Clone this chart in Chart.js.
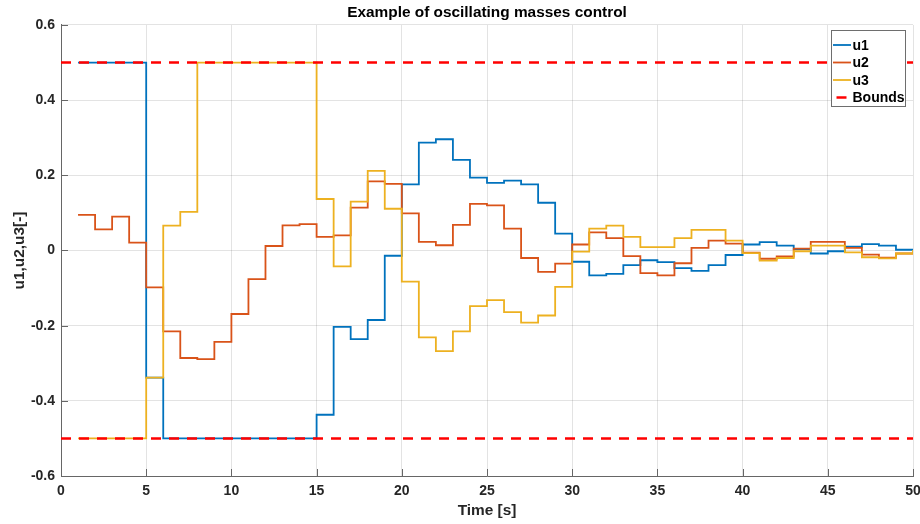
<!DOCTYPE html>
<html>
<head>
<meta charset="utf-8">
<script src="https://cdn.jsdelivr.net/npm/chart.js@4/dist/chart.umd.min.js"></script>
<style>
  body { margin: 0; background: #fff; }
  #wrap { width: 920px; height: 524px; }
</style>
</head>
<body>
<div id="wrap"><canvas id="chart"></canvas></div>
<script>
// stairs data: value held from time[i] to time[i+1]
const time = [1,2,3,4,5,6,7,8,9,10,11,12,13,14,15,16,17,18,19,20,21,22,23,24,25,
  26,27,28,29,30,31,32,33,34,35,36,37,38,39,40,41,42,43,44,45,46,47,48,49,50];

const u1 = [0.5, 0.5, 0.5, 0.5, -0.338, -0.5, -0.5, -0.5, -0.5, -0.5,
  -0.5, -0.5, -0.5, -0.5, -0.437, -0.203, -0.236, -0.185, -0.014, 0.176,
  0.287, 0.296, 0.241, 0.194, 0.180, 0.186, 0.176, 0.127, 0.045, -0.030,
  -0.066, -0.062, -0.039, -0.026, -0.031, -0.047, -0.054, -0.039, -0.012, 0.016,
  0.022, 0.013, 0.004, -0.008, -0.002, 0.010, 0.017, 0.013, 0.002, 0.002];

const u2 = [0.095, 0.056, 0.090, 0.021, -0.098, -0.215, -0.286, -0.289, -0.243, -0.169,
  -0.076, 0.012, 0.067, 0.070, 0.036, 0.040, 0.114, 0.184, 0.177, 0.099,
  0.023, 0.014, 0.068, 0.124, 0.120, 0.058, -0.020, -0.057, -0.035, 0.016,
  0.048, 0.033, -0.015, -0.060, -0.066, -0.034, 0.007, 0.026, 0.018, -0.006,
  -0.022, -0.016, 0.005, 0.023, 0.023, 0.007, -0.011, -0.019, -0.008, -0.008];

const u3 = [-0.5, -0.5, -0.5, -0.5, -0.338, 0.066, 0.103, 0.5, 0.5, 0.5,
  0.5, 0.5, 0.5, 0.5, 0.137, -0.042, 0.130, 0.212, 0.111, -0.083,
  -0.231, -0.268, -0.215, -0.148, -0.132, -0.164, -0.192, -0.173, -0.097, -0.003,
  0.058, 0.066, 0.036, 0.009, 0.009, 0.033, 0.055, 0.055, 0.026, -0.007,
  -0.027, -0.020, -0.002, 0.013, 0.013, -0.005, -0.018, -0.021, -0.008, 0.001];

const boundsTime = [0, 50];
const upperBound = [0.5, 0.5];
const lowerBound = [-0.5, -0.5];

const xTicks = [0, 5, 10, 15, 20, 25, 30, 35, 40, 45, 50];
const yTicks = [-0.6, -0.4, -0.2, 0, 0.2, 0.4, 0.6];

const colors = { u1: '#0072BD', u2: '#D95319', u3: '#EDB120', bounds: '#FF0000' };
const FONT = "'Liberation Sans', Arial, Helvetica, sans-serif";
const axisGrey = '#262626';

const toPoints = (xs, ys) => xs.map((x, i) => ({ x, y: ys[i] }));

// inward tick marks like the original axes
const innerTicks = {
  id: 'innerTicks',
  afterDraw(chart) {
    const { ctx, chartArea: a, scales: { x, y } } = chart;
    ctx.save();
    ctx.strokeStyle = '#666';
    ctx.lineWidth = 1;
    ctx.beginPath();
    xTicks.forEach(v => {
      const px = Math.round(x.getPixelForValue(v)) + 0.5;
      ctx.moveTo(px, a.bottom); ctx.lineTo(px, a.bottom - 7);
    });
    yTicks.forEach(v => {
      const py = Math.round(y.getPixelForValue(v)) + 0.5;
      ctx.moveTo(a.left, py); ctx.lineTo(a.left + 7, py);
    });
    ctx.stroke();
    ctx.restore();
  }
};

// legend box in the top-right corner of the plot
const boxLegend = {
  id: 'boxLegend',
  afterDraw(chart) {
    const { ctx, chartArea: a } = chart;
    const items = [
      { label: 'u1', color: colors.u1 },
      { label: 'u2', color: colors.u2 },
      { label: 'u3', color: colors.u3 },
      { label: 'Bounds', color: colors.bounds }
    ];
    const left = Math.round(a.right) - 81.5, top = Math.round(a.top) + 5.5, w = 74, h = 76;
    ctx.save();
    ctx.fillStyle = '#fff';
    ctx.fillRect(left, top, w, h);
    ctx.strokeStyle = '#6e6e6e';
    ctx.lineWidth = 1;
    ctx.strokeRect(left, top, w, h);
    ctx.font = 'bold 14px ' + FONT;
    ctx.textBaseline = 'middle';
    items.forEach((it, i) => {
      const cy = top + 14.5 + i * 17.5;
      ctx.beginPath();
      ctx.strokeStyle = it.color;
      if (it.label === 'Bounds') {
        ctx.lineWidth = 2.5;
        ctx.moveTo(left + 5, cy); ctx.lineTo(left + 15, cy);
      } else {
        ctx.lineWidth = 1.8;
        ctx.moveTo(left + 1.5, cy); ctx.lineTo(left + 19.5, cy);
      }
      ctx.stroke();
      ctx.fillStyle = '#000';
      ctx.fillText(it.label, left + 21, cy + 1);
    });
    ctx.restore();
  }
};

const stairs = (label, data, color, order) => ({
  label,
  data: toPoints(time, data),
  borderColor: color,
  borderWidth: 1.8,
  stepped: 'before',
  pointRadius: 0,
  fill: false,
  order
});

new Chart(document.getElementById('chart'), {
  type: 'line',
  data: {
    datasets: [
      stairs('u1', u1, colors.u1, 3),
      stairs('u2', u2, colors.u2, 2),
      stairs('u3', u3, colors.u3, 1),
      {
        label: 'Bounds',
        data: toPoints(boundsTime, upperBound),
        borderColor: colors.bounds,
        borderWidth: 2.5,
        borderDash: [10, 8],
        pointRadius: 0,
        order: 0
      },
      {
        label: 'Bounds (lower)',
        data: toPoints(boundsTime, lowerBound),
        borderColor: colors.bounds,
        borderWidth: 2.5,
        borderDash: [10, 8],
        pointRadius: 0,
        order: 0
      }
    ]
  },
  options: {
    responsive: true,
    maintainAspectRatio: false,
    animation: false,
    layout: { padding: 0 },
    plugins: {
      legend: { display: false },
      tooltip: { enabled: false },
      title: {
        display: true,
        fullSize: false,
        text: 'Example of oscillating masses control',
        color: '#000',
        font: { family: FONT, size: 15.4, weight: 'bold' },
        padding: { top: 4, bottom: 2.5 }
      }
    },
    scales: {
      x: {
        type: 'linear',
        min: 0,
        max: 50,
        afterBuildTicks: s => { s.ticks = xTicks.map(v => ({ value: v })); },
        afterFit: s => { s.height = 48; s.paddingRight = 7; s.paddingLeft = 0; },
        ticks: {
          color: axisGrey,
          padding: 7,
          maxRotation: 0,
          font: { family: FONT, size: 14, weight: 'bold' }
        },
        grid: { color: 'rgba(38,38,38,0.13)', drawTicks: false },
        border: { color: '#666' },
        title: {
          display: true,
          text: 'Time [s]',
          color: axisGrey,
          font: { family: FONT, size: 15.4, weight: 'bold' },
          padding: { top: 0, bottom: 4 }
        }
      },
      y: {
        type: 'linear',
        min: -0.6,
        max: 0.6,
        afterBuildTicks: s => { s.ticks = yTicks.map(v => ({ value: v })); },
        afterFit: s => { s.width = 61; },
        ticks: {
          color: axisGrey,
          padding: 6,
          font: { family: FONT, size: 14, weight: 'bold' },
          callback: v => (Math.abs(v) < 1e-9 ? '0' : String(+v.toFixed(1)))
        },
        grid: { color: 'rgba(38,38,38,0.13)', drawTicks: false },
        border: { color: '#666' },
        title: {
          display: true,
          text: 'u1,u2,u3[-]',
          color: axisGrey,
          font: { family: FONT, size: 15.4, weight: 'bold' },
          padding: { top: 11, bottom: 0 }
        }
      }
    }
  },
  plugins: [innerTicks, boxLegend]
});
</script>
</body>
</html>
